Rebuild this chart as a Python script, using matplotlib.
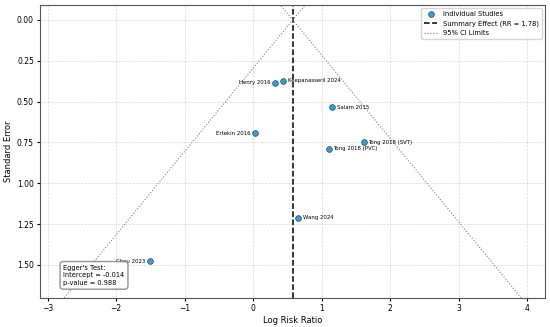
import matplotlib.pyplot as plt
import numpy as np

# study data
studies = ["Henry 2016", "Keepanasseril 2024", "Salam 2015", "Tong 2018 (SVT)",
           "Tong 2018 (PVC)", "Ertekin 2016", "Wang 2024", "Chou 2023"]
log_rr = [0.32, 0.44, 1.15, 1.61, 1.10, 0.03, 0.66, -1.51]
se = [0.385, 0.372, 0.535, 0.748, 0.79, 0.695, 1.21, 1.477]
label_side = ["left", "right", "right", "right", "right", "left", "right", "left"]

summary_rr = 1.78
egger_intercept = -0.014
egger_p = 0.988

summary = np.log(summary_rr)

fig, ax = plt.subplots(figsize=(5.5, 3.27), dpi=100)

ax.scatter(log_rr, se, s=17, color="#1f95d0", edgecolors="#1a3a4a",
           linewidths=0.5, alpha=0.9, zorder=3, label="Individual Studies")
ax.axvline(summary, color="black", linestyle="--", linewidth=1.1,
           label="Summary Effect (RR = {:.2f})".format(summary_rr))

se_line = np.linspace(-0.3, 2.0, 100)
ax.plot(summary - 1.96 * se_line, se_line, linestyle=":", color="gray",
        linewidth=0.8, label="95% CI Limits")
ax.plot(summary + 1.96 * se_line, se_line, linestyle=":", color="gray",
        linewidth=0.8)

for name, x, y, side in zip(studies, log_rr, se, label_side):
    if side == "right":
        ax.annotate(name, (x, y), xytext=(3.5, 0), textcoords="offset points",
                    fontsize=3.9, va="center", ha="left")
    else:
        ax.annotate(name, (x, y), xytext=(-3.5, 0), textcoords="offset points",
                    fontsize=3.9, va="center", ha="right")

ax.text(0.046, 0.04, "Egger's Test:\nIntercept = {:.3f}\np-value = {:.3f}".format(
        egger_intercept, egger_p), transform=ax.transAxes, fontsize=4.8,
        va="bottom", ha="left", zorder=5, linespacing=1.3,
        bbox=dict(boxstyle="round,pad=0.5", fc="white", ec="gray", alpha=0.85))

ax.set_xlim(-3.11, 4.26)
ax.set_ylim(1.70, -0.094)
ax.set_xticks(np.arange(-3, 5, 1))
ax.set_yticks(np.arange(0, 1.51, 0.25))
ax.tick_params(labelsize=5.5, pad=2, length=2.5)
ax.set_xlabel("Log Risk Ratio", fontsize=6, labelpad=2)
ax.set_ylabel("Standard Error", fontsize=6, labelpad=3)
ax.grid(True, linestyle="--", linewidth=0.5, alpha=0.5)
for spine in ax.spines.values():
    spine.set_color("#555555")
ax.legend(loc="upper right", fontsize=4.9, borderaxespad=0.5)

plt.subplots_adjust(left=0.073, right=0.991, top=0.986, bottom=0.09)
fig.savefig("out.png", dpi=100)
plt.close()
